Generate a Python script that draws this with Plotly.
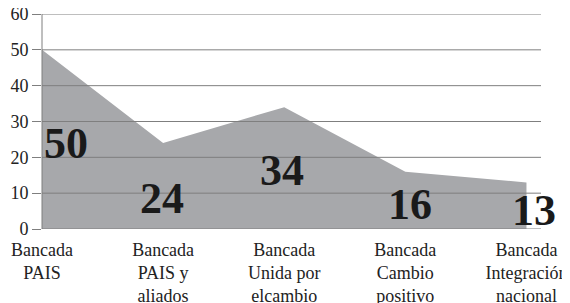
import plotly.graph_objects as go

categories = ["Bancada<br>PAIS", "Bancada<br>PAIS y<br>aliados", "Bancada<br>Unida por<br>elcambio",
              "Bancada<br>Cambio<br>positivo", "Bancada<br>Integración<br>nacional"]
seats = [50, 24, 34, 16, 13]
y_ticks = [0, 10, 20, 30, 40, 50, 60]

# label placement (style, not data)
label_dx = [0.2, -0.01, -0.02, 0.04, 0.06]
label_y = [24, 8.4, 16.2, 6.7, 5.2]

xs = list(range(len(categories)))
grid_color = "#7f7f7f"
serif = "Liberation Serif, Times New Roman, serif"

fig = go.Figure()
fig.add_trace(go.Scatter(
    x=xs, y=seats, mode="lines", fill="tozeroy",
    fillcolor="#a7a8ab", line=dict(width=0, color="#a7a8ab"),
    hoverinfo="skip", showlegend=False,
))

shapes = []
for v in y_ticks:
    shapes.append(dict(type="line", xref="x domain", yref="y", x0=0, x1=1, y0=v, y1=v,
                       line=dict(color=grid_color, width=1), layer="above"))
shapes.append(dict(type="line", xref="x domain", yref="y domain", x0=0, x1=0, y0=0, y1=1,
                   line=dict(color=grid_color, width=1), layer="above"))

annotations = []
for i, v in enumerate(seats):
    annotations.append(dict(x=xs[i] + label_dx[i], y=label_y[i], xref="x", yref="y",
                            text=f"<b>{v}</b>", showarrow=False,
                            font=dict(family=serif, size=44, color="#1a1a1a")))

# the page body has an 8px margin, so the figure is 8px smaller and margins shifted
fig.update_layout(
    width=562, height=295,
    margin=dict(l=34, r=29, t=6, b=74, autoexpand=False),
    paper_bgcolor="white", plot_bgcolor="white",
    shapes=shapes, annotations=annotations,
    xaxis=dict(range=[0, 4.12], tickvals=xs, ticktext=categories, showgrid=False,
               zeroline=False, showline=False, ticks="outside", ticklen=4,
               tickcolor="rgba(0,0,0,0)", automargin=False, ticklabeloverflow="allow",
               tickfont=dict(family=serif, size=18, color="#222")),
    yaxis=dict(range=[0, 60], tickvals=y_ticks, showgrid=False, zeroline=False,
               showline=False, ticks="outside", ticklen=9, tickcolor=grid_color,
               automargin=False, ticklabeloverflow="allow",
               tickfont=dict(family=serif, size=18, color="#222")),
)

fig.write_html("out.html")
